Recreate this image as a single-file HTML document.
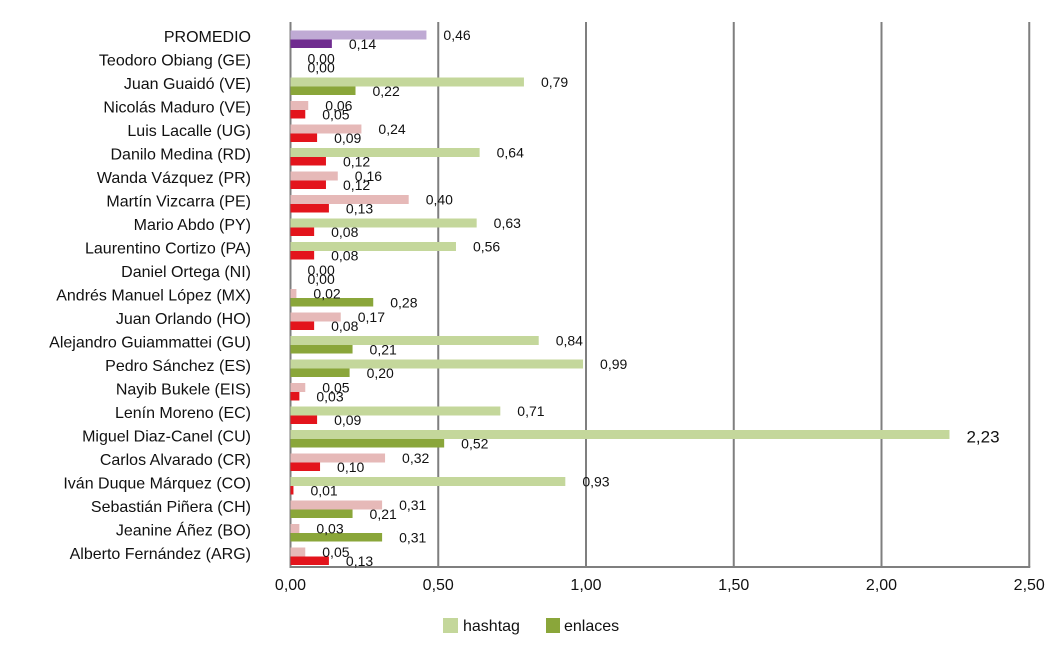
<!DOCTYPE html>
<html><head><meta charset="utf-8"><style>
body{margin:0;background:#fff;}
svg{font-family:"Liberation Sans","DejaVu Sans",sans-serif;}
</style></head><body>
<svg id="c" width="1063" height="649"></svg>
<script>
const categories=["PROMEDIO","Teodoro Obiang (GE)","Juan Guaidó (VE)","Nicolás Maduro (VE)","Luis Lacalle (UG)","Danilo Medina (RD)","Wanda Vázquez (PR)","Martín Vizcarra (PE)","Mario Abdo (PY)","Laurentino Cortizo (PA)","Daniel Ortega (NI)","Andrés Manuel López  (MX)","Juan Orlando (HO)","Alejandro Guiammattei (GU)","Pedro Sánchez (ES)","Nayib Bukele (EIS)","Lenín Moreno (EC)","Miguel Diaz-Canel (CU)","Carlos Alvarado (CR)","Iván Duque Márquez (CO)","Sebastián Piñera (CH)","Jeanine Áñez (BO)","Alberto Fernández (ARG)"];
const hashtag=[0.46,0,0.79,0.06,0.24,0.64,0.16,0.40,0.63,0.56,0,0.02,0.17,0.84,0.99,0.05,0.71,2.23,0.32,0.93,0.31,0.03,0.05];
const enlaces=[0.14,0,0.22,0.05,0.09,0.12,0.12,0.13,0.08,0.08,0,0.28,0.08,0.21,0.20,0.03,0.09,0.52,0.10,0.01,0.21,0.31,0.13];
const ticks=[0,0.5,1,1.5,2,2.5];
const NS="http://www.w3.org/2000/svg";
const svg=document.getElementById('c');
const x0=290.5,unit=295.5;
const xs=v=>x0+v*unit;
const rowY=i=>37+i*23.5;
function mk(t,a,p){const e=document.createElementNS(NS,t);for(const k in a)e.setAttribute(k,a[k]);(p||svg).appendChild(e);return e;}
const fmt=v=>v.toFixed(2).replace('.',',');
ticks.forEach((t,i)=>{
  if(i>0){const g=mk('line',{x1:xs(t),x2:xs(t),y1:22,y2:567,stroke:'#7f7f7f','stroke-width':2});
  
  }
  const l=mk('text',{x:xs(t),y:590,'text-anchor':'middle','font-size':16,fill:'#111'});l.textContent=fmt(t);
  
  
});
const ax=mk('line',{x1:x0,x2:x0,y1:22,y2:567,stroke:'#7f7f7f','stroke-width':2});


const ax2=mk('line',{x1:x0-1,x2:xs(2.5)+1,y1:567,y2:567,stroke:'#7f7f7f','stroke-width':2});


categories.forEach((c,i)=>{
  const y=rowY(i);
  const t=mk('text',{x:251,y:y+5,'text-anchor':'end','font-size':16,fill:'#111'});t.textContent=c;
  
  
  let hc,ec;
  if(i===0){hc='#bfaad4';ec='#6f2c8f';}
  else{hc=hashtag[i]>=hashtag[0]?'#c4d79b':'#e6b9b8';ec=enlaces[i]>=enlaces[0]?'#8aa63a':'#e3141c';}
  const h=hashtag[i],e=enlaces[i];
  const hb=mk('rect',{x:x0,y:y-6.5,width:h*unit,height:9,fill:hc});
  
  
  const eb=mk('rect',{x:x0,y:y+2.5,width:e*unit,height:8.5,fill:ec});
  
  
  const big=h>2;
  const hl=mk('text',{x:xs(h)+17,y:y+(big?6:3),'font-size':big?17:14,fill:'#111'});hl.textContent=fmt(h);
  
  
  const el=mk('text',{x:xs(e)+17,y:y+12,'font-size':14,fill:'#111'});el.textContent=fmt(e);
  
  
});
const l1=mk('rect',{x:443,y:618,width:15,height:15,fill:'#c4d79b'});


const t1=mk('text',{x:463,y:631,'font-size':16,fill:'#111'});t1.textContent='hashtag';


const l2=mk('rect',{x:546,y:618,width:14,height:15,fill:'#8aa63a'});


const t2=mk('text',{x:564,y:631,'font-size':16,fill:'#111'});t2.textContent='enlaces';


</script>
</body></html>
